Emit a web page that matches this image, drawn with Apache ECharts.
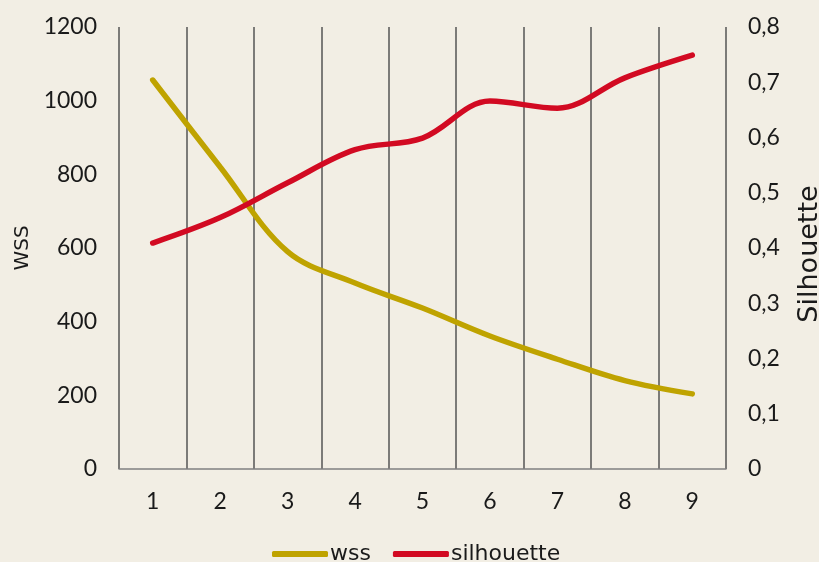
<!DOCTYPE html>
<html>
<head>
<meta charset="utf-8">
<script src="https://cdn.jsdelivr.net/npm/echarts@6/dist/echarts.min.js"></script>
<style>
  html, body { margin: 0; padding: 0; background: #f2eee4; }
  #chart { width: 819px; height: 562px; }
</style>
</head>
<body>
<div id="chart"></div>
<script>
const categories = ['1', '2', '3', '4', '5', '6', '7', '8', '9'];
const wssValues = [1056, 820, 590, 505, 437, 361, 298, 240, 204];
const silhouetteValues = [0.409, 0.455, 0.518, 0.578, 0.599, 0.666, 0.653, 0.708, 0.749];

const numFont = 'Lato, "DejaVu Sans", sans-serif';
const wordFont = '"DejaVu Sans", sans-serif';
const textColor = '#1a1a1a';

const myChart = echarts.init(document.getElementById('chart'));

const options = {
    backgroundColor: '#f2eee4',
    textStyle: {fontFamily: numFont},
    grid: {left: 119, right: 93, top: 27, bottom: 93, containLabel: false, outerBoundsMode: 'none'},
    legend: {
        top: 543,
        left: 272,
        icon: 'roundRect',
        itemWidth: 56,
        itemHeight: 6,
        itemGap: 22,
        padding: 0,
        textStyle: {fontSize: 22, color: textColor, fontFamily: wordFont, padding: [5, 0, 0, -3]},
        data: ['wss', 'silhouette']
    },
    xAxis: {
        type: 'category',
        data: categories,
        boundaryGap: true,
        axisTick: {show: false},
        axisLine: {lineStyle: {color: '#808080', width: 1.5}},
        axisLabel: {fontSize: 23, color: textColor, margin: 21, fontFamily: numFont},
        splitLine: {show: true, lineStyle: {color: '#555555', width: 1.5}}
    },
    yAxis: [
        {
            type: 'value',
            name: 'WSS',
            nameLocation: 'middle',
            nameGap: 86,
            nameRotate: 90,
            nameTextStyle: {fontSize: 20, color: textColor, fontFamily: wordFont},
            min: 0, max: 1200, interval: 200,
            axisLine: {show: false},
            axisTick: {show: false},
            splitLine: {show: false},
            axisLabel: {fontSize: 23, color: textColor, margin: 22, fontFamily: numFont, formatter: v => String(v)}
        },
        {
            type: 'value',
            name: 'Silhouette',
            nameLocation: 'middle',
            nameGap: 70,
            nameRotate: 90,
            nameTextStyle: {fontSize: 27, color: textColor, fontFamily: wordFont, padding: [0, 12, 0, 0]},
            min: 0, max: 0.8, interval: 0.1,
            axisLine: {show: false},
            axisTick: {show: false},
            splitLine: {show: false},
            axisLabel: {
                fontSize: 23, color: textColor, margin: 22, fontFamily: numFont,
                formatter: v => String(Math.round(v * 10) / 10).replace('.', ',')
            }
        }
    ],
    series: [
        {
            name: 'wss',
            type: 'line',
            yAxisIndex: 0,
            data: wssValues,
            smooth: 0.35,
            showSymbol: false,
            symbol: 'none',
            color: '#bfa300',
            lineStyle: {width: 5.5, color: '#bfa300', cap: 'round'}
        },
        {
            name: 'silhouette',
            type: 'line',
            yAxisIndex: 1,
            data: silhouetteValues,
            smooth: 0.35,
            showSymbol: false,
            symbol: 'none',
            color: '#d20a22',
            lineStyle: {width: 5.5, color: '#d20a22', cap: 'round'}
        }
    ]
};

myChart.setOption(options);
</script>
</body>
</html>
